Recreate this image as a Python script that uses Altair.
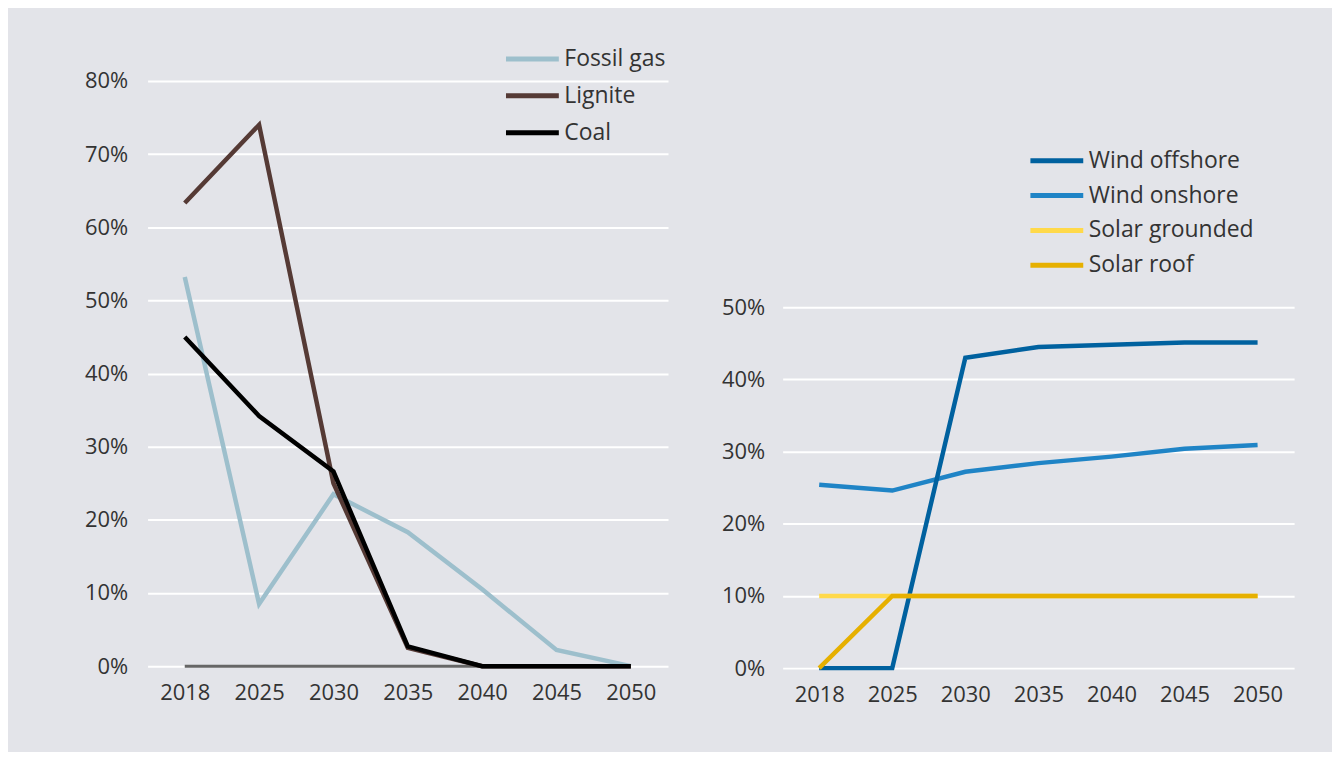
import altair as alt
import pandas as pd

years = ["2018", "2025", "2030", "2035", "2040", "2045", "2050"]

# Left panel: fossil generation shares
fossil_gas = [0.532, 0.085, 0.235, 0.183, 0.105, 0.022, 0.0]
lignite = [0.633, 0.740, 0.250, 0.025, 0.0, 0.0, 0.0]
coal = [0.450, 0.342, 0.266, 0.027, 0.0, 0.0, 0.0]
baseline = [0.0, 0.0, 0.0, 0.0, 0.0, 0.0, 0.0]

left_names = ["Fossil gas", "Lignite", "Coal"]
left_colors = ["#9dbfcc", "#553a35", "#000000"]

# Right panel: renewable shares
wind_offshore = [0.0, 0.0, 0.430, 0.445, 0.448, 0.451, 0.451]
wind_onshore = [0.254, 0.246, 0.272, 0.284, 0.293, 0.304, 0.309]
solar_grounded = [0.10, 0.10, 0.10, 0.10, 0.10, 0.10, 0.10]
solar_roof = [0.0, 0.10, 0.10, 0.10, 0.10, 0.10, 0.10]

right_names = ["Wind offshore", "Wind onshore", "Solar grounded", "Solar roof"]
right_colors = ["#00619f", "#1f84c6", "#ffd94a", "#e6b000"]

left_ticks = [0, 0.1, 0.2, 0.3, 0.4, 0.5, 0.6, 0.7, 0.8]
right_ticks = [0, 0.1, 0.2, 0.3, 0.4, 0.5]

FONT = "Open Sans"
FS = 22
TXT = "#333333"


def long(names, series):
    rows = []
    for n, vals in zip(names, series):
        for y, v in zip(years, vals):
            rows.append({"year": y, "value": v, "series": n})
    return pd.DataFrame(rows)


df_left = long(left_names, [fossil_gas, lignite, coal])
df_right = long(right_names, [wind_offshore, wind_onshore, solar_grounded, solar_roof])
df_base = pd.DataFrame({"year": years, "value": baseline})

x_enc = alt.X("year:O", sort=years, scale=alt.Scale(paddingOuter=0.5),
              axis=alt.Axis(title=None, labelAngle=0, domain=False, ticks=False, grid=False,
                            labelPadding=16, labelFontSize=FS, labelFont=FONT, labelColor=TXT))


def y_enc(ticks, top, pad):
    return alt.Y("value:Q", scale=alt.Scale(domain=[0, top], nice=False, zero=True),
                 axis=alt.Axis(title=None, values=ticks, format=".0%", domain=False, ticks=False,
                               grid=True, gridColor="#ffffff", gridWidth=2,
                               labelPadding=pad, labelFontSize=FS, labelFont=FONT, labelColor=TXT,
                               minExtent=60, maxExtent=60))


def color_enc(names, colors, lx, ly, rowpad):
    return alt.Color("series:N", scale=alt.Scale(domain=names, range=colors),
                     legend=alt.Legend(title=None, orient="none", legendX=lx, legendY=ly,
                                       padding=0, symbolType="stroke", symbolSize=2809,
                                       symbolStrokeWidth=5, clipHeight=22, rowPadding=rowpad,
                                       labelOffset=3, labelFontSize=23, labelFont=FONT,
                                       labelLimit=400, labelColor=TXT, direction="vertical"))


# Left chart
left_layers = [
    alt.Chart(df_base).mark_line(color="#666666", strokeWidth=3).encode(
        x=x_enc, y=y_enc(left_ticks, 0.8, 20))
]
for n in left_names:
    left_layers.append(
        alt.Chart(df_left).transform_filter(alt.datum.series == n).mark_line(strokeWidth=4.5).encode(
            x=x_enc, y=y_enc(left_ticks, 0.8, 20),
            color=color_enc(left_names, left_colors, 357, -33, 14))
    )
left = alt.layer(*left_layers).properties(width=522, height=587)

# Right chart
right_order = ["Wind onshore", "Wind offshore", "Solar grounded", "Solar roof"]
right_layers = []
for n in right_order:
    right_layers.append(
        alt.Chart(df_right).transform_filter(alt.datum.series == n).mark_line(strokeWidth=4.5).encode(
            x=x_enc, y=y_enc(right_ticks, 589 / 724, 18),
            color=color_enc(right_names, right_colors, 246, 69, 12))
    )
right = alt.layer(*right_layers).properties(width=513, height=589)

chart = alt.hconcat(left, right, spacing=53).resolve_scale(color="independent", y="independent").properties(
    padding={"left": 76, "top": 39, "right": 38, "bottom": 46},
    background="#e3e4e9",
).configure_view(stroke=None)

chart.save("out.html", embed_options={"renderer": "svg", "actions": False})
